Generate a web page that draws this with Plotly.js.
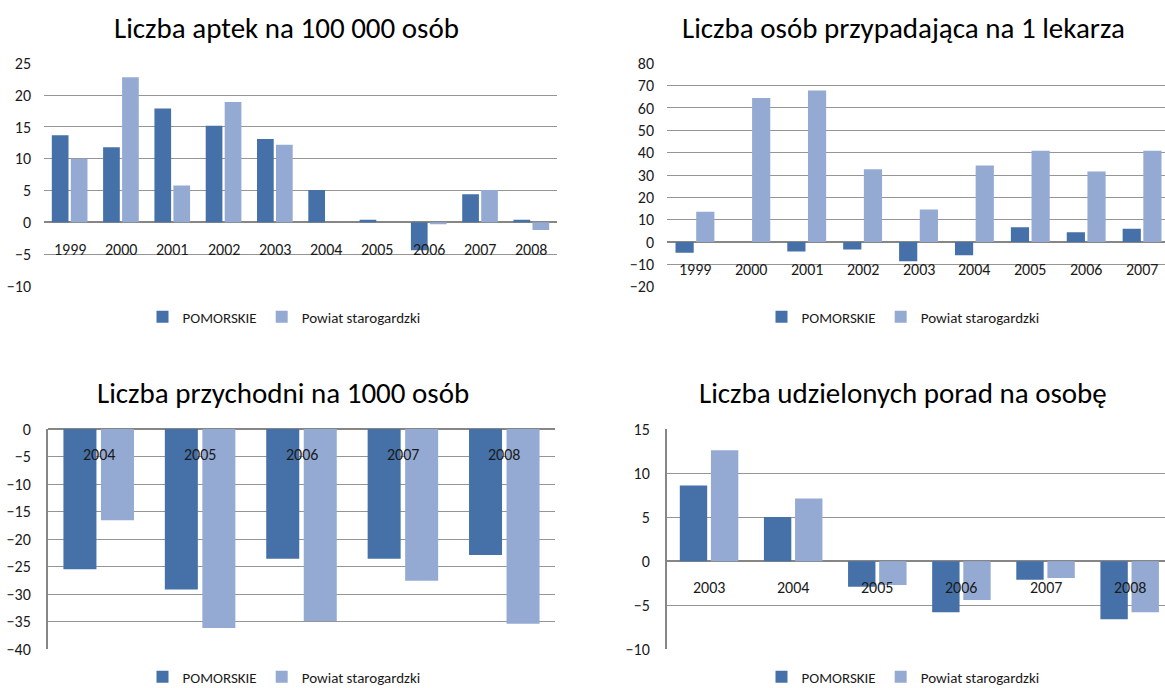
<!DOCTYPE html>
<html>
<head>
<meta charset="utf-8">
<script src="https://cdn.plot.ly/plotly-3.0.1.min.js"></script>
<style>
  html, body { margin: 0; padding: 0; background: #ffffff; }
  #chart { width: 1165px; height: 688px; }
</style>
</head>
<body>
<div id="chart"></div>
<script>
// ---- Data ----
const seriesNames = ['POMORSKIE', 'Powiat starogardzki'];

const titles = [
  'Liczba aptek na 100 000 osób',
  'Liczba osób przypadająca na 1 lekarza',
  'Liczba przychodni na 1000 osób',
  'Liczba udzielonych porad na osobę'
];

const years1 = ['1999','2000','2001','2002','2003','2004','2005','2006','2007','2008'];
const pomorskie1 = [13.7, 11.8, 17.9, 15.2, 13.1, 5.1, 0.4, -4.4, 4.4, 0.4];
const powiat1    = [10.0, 22.8, 5.8, 18.9, 12.2, 0, 0, -0.3, 5.1, -1.2];

const years2 = ['1999','2000','2001','2002','2003','2004','2005','2006','2007'];
const pomorskie2 = [-4.8, 0, -4.2, -3.3, -8.6, -5.9, 6.6, 4.4, 5.9];
const powiat2    = [13.5, 64.5, 67.8, 32.6, 14.6, 34.3, 40.9, 31.6, 40.9];

const years3 = ['2004','2005','2006','2007','2008'];
const pomorskie3 = [-25.5, -29.2, -23.6, -23.6, -22.9];
const powiat3    = [-16.6, -36.2, -34.9, -27.6, -35.4];

const years4 = ['2003','2004','2005','2006','2007','2008'];
const pomorskie4 = [8.6, 5.0, -2.9, -5.8, -2.1, -6.6];
const powiat4    = [12.6, 7.1, -2.7, -4.4, -1.9, -5.8];

// ---- Styling ----
const FONT = 'Carlito, Calibri, Lato, sans-serif';
const DARK = '#4671a8';
const LIGHT = '#95aad3';
const GRID = '#959595';
const AXIS = '#868686';
const TXT = '#1a1a1a';
const SMALL = 16;
const LEG = 15;
const W = 1165, H = 688;

const panels = [
  {cats: years1, a: pomorskie1, b: powiat1, xs: '', range: [-10, 25], dtick: 5,
   xdom: [44, 557], ydom: [63.3, 286], xr: [-0.5, 9.5], labelY: -4.2, leftLine: false,
   titleX: 286, titleY: 28, legX: 284, legY: 317},
  {cats: years2, a: pomorskie2, b: powiat2, xs: '2', range: [-20, 80], dtick: 10,
   xdom: [667, 1165], ydom: [63.3, 286.7], xr: [-0.5, 8.41], labelY: -12.2, leftLine: false,
   titleX: 903, titleY: 28, legX: 903, legY: 317},
  {cats: years3, a: pomorskie3, b: powiat3, xs: '3', range: [-40, 0], dtick: 5,
   xdom: [48, 555], ydom: [429, 649], xr: [-0.5, 4.5], labelY: -4.6, leftLine: true,
   titleX: 283, titleY: 393, legX: 284, legY: 677},
  {cats: years4, a: pomorskie4, b: powiat4, xs: '4', range: [-10, 15], dtick: 5,
   xdom: [667, 1165], ydom: [429, 649.3], xr: [-0.5, 5.42], labelY: -3.0, leftLine: true,
   titleX: 903, titleY: 393, legX: 903, legY: 677}
];

const traces = [];
const layout = {
  width: W, height: H,
  margin: {l: 0, r: 0, t: 0, b: 0, autoexpand: false},
  paper_bgcolor: '#ffffff', plot_bgcolor: '#ffffff',
  barmode: 'group', bargap: 0.26, bargroupgap: 0.12,
  font: {family: FONT, size: SMALL, color: TXT},
  annotations: [],
  showlegend: true
};

panels.forEach((p, i) => {
  const legName = i === 0 ? 'legend' : 'legend' + (i + 1);
  const xa = 'x' + p.xs, ya = 'y' + p.xs;
  [[p.a, DARK, seriesNames[0]], [p.b, LIGHT, seriesNames[1]]].forEach(([vals, col, name]) => {
    traces.push({
      type: 'bar', x: p.cats, y: vals, name: name,
      xaxis: xa, yaxis: ya, legend: legName,
      marker: {color: col, line: {width: 0}},
      hoverinfo: 'x+y+name'
    });
  });
  const xKey = 'xaxis' + p.xs, yKey = 'yaxis' + p.xs;
  layout[xKey] = {
    domain: [p.xdom[0] / W, p.xdom[1] / W],
    anchor: ya, type: 'category', range: p.xr,
    categoryorder: 'array', categoryarray: p.cats,
    showticklabels: false, showgrid: false, zeroline: false, showline: false, ticks: '',
    fixedrange: true
  };
  layout[yKey] = {
    domain: [1 - p.ydom[1] / H, 1 - p.ydom[0] / H],
    anchor: xa, range: p.range, dtick: p.dtick, tick0: 0,
    showgrid: true, gridcolor: GRID, gridwidth: 1,
    zeroline: true, zerolinecolor: AXIS, zerolinewidth: 2,
    showline: p.leftLine, linecolor: AXIS, linewidth: 2,
    ticks: '', ticklabelstandoff: 12,
    tickfont: {family: FONT, size: SMALL, color: TXT},
    fixedrange: true
  };
  // category labels placed on the value scale near the zero line (x = category index)
  p.cats.forEach((c, j) => {
    layout.annotations.push({
      xref: xa, yref: ya, x: j, y: p.labelY, text: c, showarrow: false,
      font: {family: FONT, size: SMALL, color: TXT},
      xanchor: 'center', yanchor: 'middle'
    });
  });
  // panel title
  layout.annotations.push({
    xref: 'paper', yref: 'paper', x: p.titleX / W, y: 1 - p.titleY / H,
    text: titles[i], showarrow: false,
    font: {family: FONT, size: 29, color: '#000000'},
    xanchor: 'center', yanchor: 'middle'
  });
  layout[legName] = {
    orientation: 'h', x: p.legX / W, y: 1 - p.legY / H,
    xanchor: 'center', yanchor: 'middle',
    font: {family: FONT, size: LEG, color: TXT},
    bgcolor: 'rgba(0,0,0,0)', itemclick: false, itemdoubleclick: false
  };
});

Plotly.newPlot('chart', traces, layout, {displayModeBar: false});
</script>
</body>
</html>
